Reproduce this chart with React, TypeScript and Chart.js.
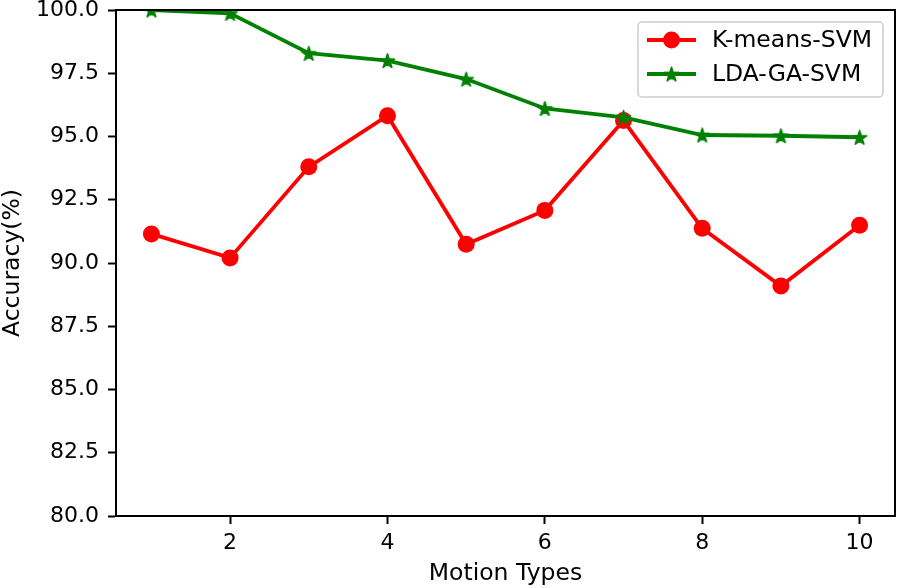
import React, { useEffect, useRef } from "react";
import { Chart, registerables } from "chart.js";

Chart.register(...registerables);

const motionTypes = [1, 2, 3, 4, 5, 6, 7, 8, 9, 10];
const kmeansSvm = [91.15, 90.2, 93.8, 95.82, 90.74, 92.08, 95.63, 91.37, 89.09, 91.49];
const ldaGaSvm = [100.0, 99.87, 98.29, 98.0, 97.27, 96.11, 95.76, 95.06, 95.03, 94.97];
const xTickValues = [2, 4, 6, 8, 10];
const yTickValues = [80.0, 82.5, 85.0, 87.5, 90.0, 92.5, 95.0, 97.5, 100.0];
const seriesLabels = ["K-means-SVM", "LDA-GA-SVM"];

const FONT = "'DejaVu Sans', 'Liberation Sans', sans-serif";
const RED = "#ff0000";
const GREEN = "#008000";

function makeStar(color: string, outer: number): HTMLCanvasElement {
  const size = Math.ceil(outer * 2 + 4);
  const c = document.createElement("canvas");
  c.width = size;
  c.height = size;
  const ctx = c.getContext("2d")!;
  const cx = size / 2;
  const cy = size / 2;
  const inner = outer * 0.381966;
  ctx.beginPath();
  for (let i = 0; i < 10; i++) {
    const r = i % 2 === 0 ? outer : inner;
    const a = -Math.PI / 2 + (i * Math.PI) / 5;
    const x = cx + r * Math.cos(a);
    const y = cy + r * Math.sin(a) + outer * 0.1;
    if (i === 0) ctx.moveTo(x, y);
    else ctx.lineTo(x, y);
  }
  ctx.closePath();
  ctx.fillStyle = color;
  ctx.fill();
  ctx.strokeStyle = color;
  ctx.lineWidth = 1.5;
  ctx.lineJoin = "round";
  ctx.stroke();
  return c;
}

const frameBox = {
  id: "frameBox",
  afterDraw(chart: any) {
    const { ctx, chartArea } = chart;
    ctx.save();
    ctx.strokeStyle = "#000";
    ctx.lineWidth = 2;
    ctx.strokeRect(chartArea.left, chartArea.top, chartArea.right - chartArea.left, chartArea.bottom - chartArea.top);
    ctx.restore();
  },
};

const boxLegend = {
  id: "boxLegend",
  afterDraw(chart: any) {
    const { ctx } = chart;
    const x0 = 638, y0 = 22, w = 245, h = 75;
    ctx.save();
    ctx.beginPath();
    (ctx as any).roundRect(x0, y0, w, h, 4);
    ctx.fillStyle = "rgba(255,255,255,0.8)";
    ctx.fill();
    ctx.strokeStyle = "#cccccc";
    ctx.lineWidth = 1.5;
    ctx.stroke();
    const rows = [40, 74];
    chart.data.datasets.forEach((ds: any, i: number) => {
      const y = rows[i];
      ctx.strokeStyle = ds.borderColor;
      ctx.lineWidth = ds.borderWidth;
      ctx.beginPath();
      ctx.moveTo(647, y);
      ctx.lineTo(696, y);
      ctx.stroke();
      const mx = 671.5;
      if (ds.pointStyle === "circle") {
        ctx.beginPath();
        ctx.arc(mx, y, ds.pointRadius, 0, Math.PI * 2);
        ctx.fillStyle = ds.pointBackgroundColor;
        ctx.fill();
      } else {
        const img = ds.pointStyle as HTMLCanvasElement;
        ctx.drawImage(img, mx - img.width / 2, y - img.height / 2);
      }
      ctx.fillStyle = "#000";
      ctx.font = `23.5px ${FONT}`;
      ctx.textBaseline = "middle";
      ctx.textAlign = "left";
      ctx.fillText(ds.label, 712, y + 1);
    });
    ctx.restore();
  },
};

export default function App() {
  const ref = useRef<HTMLCanvasElement | null>(null);
  useEffect(() => {
    document.body.style.margin = "0";
    const star = makeStar(GREEN, 7.5);
    const chart = new Chart(ref.current!, {
      type: "line",
      data: {
        datasets: [
          {
            label: seriesLabels[0],
            data: motionTypes.map((x, i) => ({ x, y: kmeansSvm[i] })),
            borderColor: RED,
            backgroundColor: RED,
            pointBackgroundColor: RED,
            pointBorderWidth: 0,
            pointRadius: 8.5,
            pointStyle: "circle",
            borderWidth: 3.8,
            tension: 0,
            order: 1,
            clip: 0,
          },
          {
            label: seriesLabels[1],
            data: motionTypes.map((x, i) => ({ x, y: ldaGaSvm[i] })),
            borderColor: GREEN,
            backgroundColor: GREEN,
            pointBackgroundColor: GREEN,
            pointBorderWidth: 0,
            pointRadius: 8,
            pointStyle: star as any,
            borderWidth: 3.8,
            tension: 0,
            order: 0,
            clip: 0,
          },
        ] as any,
      },
      options: {
        animation: false,
        responsive: false,
        maintainAspectRatio: false,
        layout: { autoPadding: false, padding: { top: 10, right: 3, left: 0, bottom: 0 } },
        plugins: { legend: { display: false }, tooltip: { enabled: false } },
        scales: {
          x: {
            type: "linear",
            min: 0.55,
            max: 10.45,
            afterBuildTicks: (s: any) => {
              s.ticks = xTickValues.map((v) => ({ value: v }));
            },
            afterFit: (s: any) => {
              s.height = 72;
              s.paddingLeft = 0;
              s.paddingRight = 0;
            },
            grid: { display: true, drawOnChartArea: false, drawTicks: true, tickLength: 8, tickWidth: 2, tickColor: "#000" },
            border: { display: true, color: "#000", width: 2 },
            ticks: { color: "#000", font: { family: FONT, size: 22 }, padding: 6, maxRotation: 0, callback: (v: any) => String(v) },
            title: { display: true, text: "Motion Types", color: "#000", font: { family: FONT, size: 23.5 }, padding: { top: 0, bottom: 0 } },
          },
          y: {
            type: "linear",
            min: 80,
            max: 100,
            afterBuildTicks: (s: any) => {
              s.ticks = yTickValues.map((v) => ({ value: v }));
            },
            afterFit: (s: any) => {
              s.width = 116;
              s.paddingTop = 0;
              s.paddingBottom = 0;
            },
            grid: { display: true, drawOnChartArea: false, drawTicks: true, tickLength: 8, tickWidth: 2, tickColor: "#000" },
            border: { display: true, color: "#000", width: 2 },
            ticks: { color: "#000", font: { family: FONT, size: 22 }, padding: 9, callback: (v: any) => Number(v).toFixed(1) },
            title: { display: true, text: "Accuracy(%)", color: "#000", font: { family: FONT, size: 23.5, lineHeight: 1 }, padding: { top: 1, bottom: 0 } },
          },
        },
      } as any,
      plugins: [frameBox, boxLegend],
    });
    return () => chart.destroy();
  }, []);
  return (
    <div style={{ width: 898, height: 588 }}>
      <canvas ref={ref} width={898} height={588} style={{ display: "block" }} />
    </div>
  );
}
